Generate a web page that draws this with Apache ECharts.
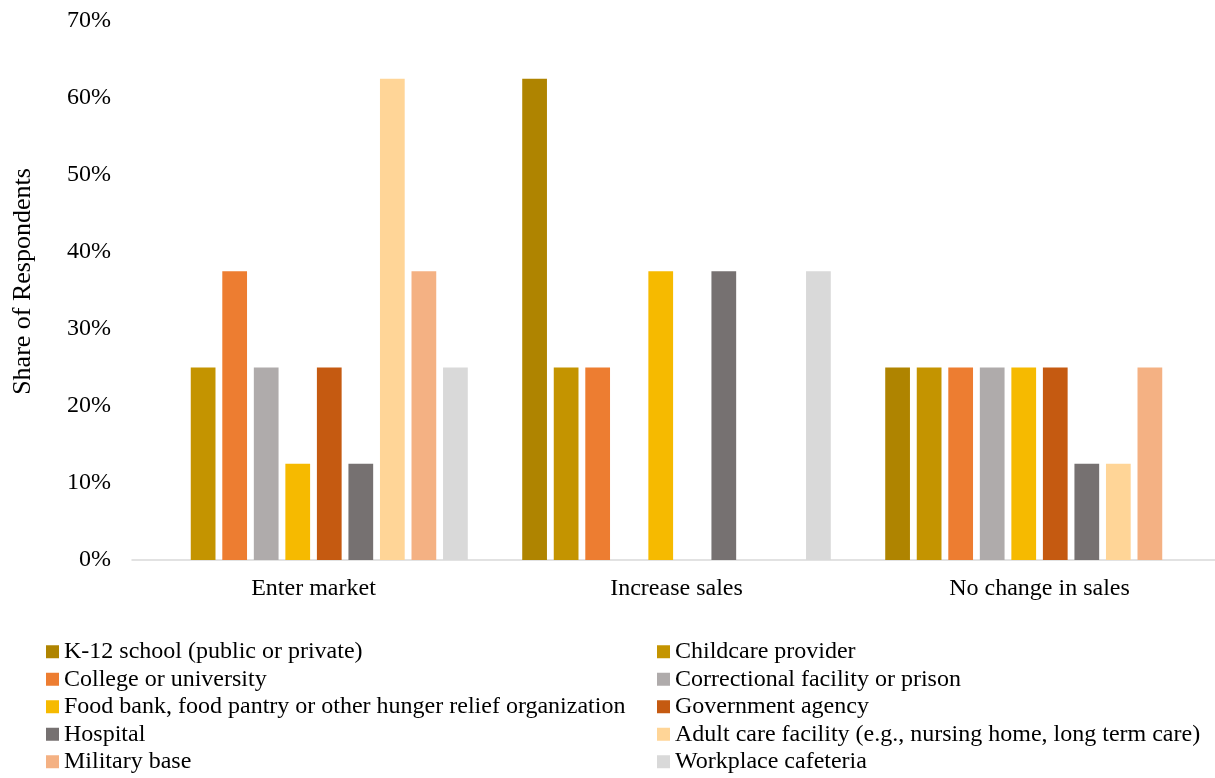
<!DOCTYPE html>
<html>
<head>
<meta charset="utf-8">
<script src="https://cdn.jsdelivr.net/npm/echarts@6/dist/echarts.min.js"></script>
<style>
  html, body { margin: 0; padding: 0; background: #fff; }
  #chart { width: 1215px; height: 778px; }
</style>
</head>
<body>
<div id="chart"></div>
<script>
// categories and tick labels
var categories = ['Enter market', 'Increase sales', 'No change in sales'];
var yTicks = [0, 10, 20, 30, 40, 50, 60, 70];

// share of respondents (%) per buyer type
var k12 = [0, 62.5, 25];
var childcare = [25, 25, 25];
var college = [37.5, 25, 25];
var correctional = [25, 0, 25];
var foodBank = [12.5, 37.5, 25];
var government = [25, 0, 25];
var hospital = [12.5, 37.5, 12.5];
var adultCare = [62.5, 0, 12.5];
var military = [37.5, 0, 25];
var workplace = [25, 37.5, 0];

var seriesNames = [
  'K-12 school (public or private)',
  'Childcare provider',
  'College or university',
  'Correctional facility or prison',
  'Food bank, food pantry or other hunger relief organization',
  'Government agency',
  'Hospital',
  'Adult care facility (e.g., nursing home, long term care)',
  'Military base',
  'Workplace cafeteria'
];
var seriesData = [k12, childcare, college, correctional, foodBank, government, hospital, adultCare, military, workplace];
var colors = ['#AF8400', '#C49400', '#ED7D31', '#AFABAB', '#F6BA00', '#C55A11', '#767171', '#FFD597', '#F4B183', '#D9D9D9'];

var font = 'Liberation Serif';
var chart = echarts.init(document.getElementById('chart'));

var series = seriesNames.map(function (name, i) {
  return {
    name: name,
    type: 'bar',
    data: seriesData[i],
    barGap: '27.5%',
    barCategoryGap: '15%',
    itemStyle: { color: colors[i] }
  };
});

// two legend columns, as in the original
var legendBase = {
  orient: 'vertical',
  height: 200,
  padding: 0,
  itemWidth: 13,
  itemHeight: 13,
  itemGap: 0,
  icon: 'rect',
  textStyle: { fontFamily: font, fontSize: 24, color: '#000', lineHeight: 27.5 }
};

option = {
  animation: false,
  color: colors,
  // plot runs a little past the right edge, like the cropped original
  grid: { left: 132, top: 21, bottom: 218, right: -6, outerBoundsMode: 'none' },
  legend: [
    Object.assign({}, legendBase, { left: 46, top: 638, data: [seriesNames[0], seriesNames[2], seriesNames[4], seriesNames[6], seriesNames[8]] }),
    Object.assign({}, legendBase, { left: 657, top: 638, data: [seriesNames[1], seriesNames[3], seriesNames[5], seriesNames[7], seriesNames[9]] })
  ],
  xAxis: {
    type: 'category',
    data: categories,
    axisLine: { lineStyle: { color: '#D9D9D9', width: 1.5 } },
    axisTick: { show: false },
    axisLabel: { fontFamily: font, fontSize: 24, color: '#000', margin: 17 }
  },
  yAxis: {
    type: 'value',
    min: yTicks[0],
    max: yTicks[yTicks.length - 1],
    interval: 10,
    name: 'Share of Respondents',
    nameLocation: 'middle',
    nameGap: 96,
    nameTextStyle: { fontFamily: font, fontSize: 26, color: '#000', padding: [0, 0, 0, 18] },
    axisLine: { show: false },
    axisTick: { show: false },
    splitLine: { show: false },
    axisLabel: { fontFamily: font, fontSize: 24, color: '#000', margin: 21, formatter: '{value}%' }
  },
  series: series
};
chart.setOption(option);
</script>
</body>
</html>
